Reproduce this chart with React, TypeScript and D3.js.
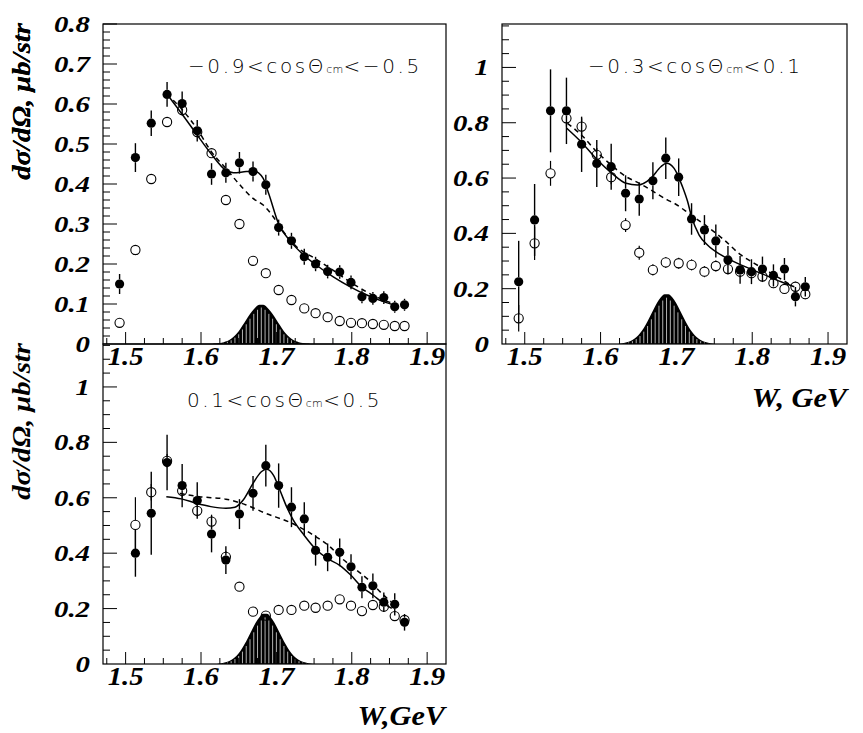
import { useEffect, useRef } from "react";
import * as d3 from "d3";

// W bins (GeV), shared by all three angular ranges
const wBins = [
  1.492, 1.513, 1.534, 1.555, 1.575, 1.595, 1.614, 1.633, 1.651, 1.669, 1.686, 1.703,
  1.72, 1.737, 1.752, 1.768, 1.784, 1.799, 1.8135, 1.828, 1.8425, 1.857, 1.87,
];

const xTickLabels = ["1.5", "1.6", "1.7", "1.8", "1.9"];
const yLabelsTop = ["0", "0.1", "0.2", "0.3", "0.4", "0.5", "0.6", "0.7", "0.8"];
const yLabelsWide = ["0", "0.2", "0.4", "0.6", "0.8", "1"];

// -0.9 < cos < -0.5
const p1Filled = [
  0.15, 0.466, 0.552, 0.624, 0.601, 0.533, 0.425, 0.428, 0.453, 0.431, 0.398, 0.291,
  0.258, 0.218, 0.2, 0.181, 0.18, 0.154, 0.118, 0.114, 0.116, 0.093, 0.098,
];
const p1FilledErr = [
  0.025, 0.036, 0.032, 0.031, 0.03, 0.027, 0.027, 0.025, 0.027, 0.025, 0.025, 0.02,
  0.02, 0.02, 0.018, 0.017, 0.017, 0.017, 0.016, 0.016, 0.016, 0.015, 0.015,
];
const p1Open = [
  0.053, 0.235, 0.4125, 0.555, 0.585, 0.53, 0.477, 0.36, 0.3, 0.208, 0.177, 0.135,
  0.11, 0.089, 0.077, 0.067, 0.0575, 0.053, 0.052, 0.05, 0.048, 0.045, 0.045,
];
const p1OpenErr = [
  0.004, 0.006, 0.006, 0.006, 0.006, 0.006, 0.005, 0.005, 0.005, 0.004, 0.004, 0.004,
  0.004, 0.004, 0.003, 0.003, 0.003, 0.003, 0.003, 0.003, 0.003, 0.003, 0.003,
];
const p1Solid: [number, number][] = [
  [1.554, 0.627], [1.574, 0.577], [1.594, 0.525], [1.614, 0.474], [1.6325, 0.435],
  [1.643, 0.428], [1.66, 0.431], [1.671, 0.432], [1.6825, 0.414], [1.69, 0.375],
  [1.703, 0.3], [1.719, 0.256], [1.7365, 0.222], [1.751, 0.2], [1.7755, 0.168],
  [1.798, 0.143], [1.82, 0.1225], [1.842, 0.106], [1.857, 0.097],
];
const p1Dashed: [number, number][] = [
  [1.5545, 0.625], [1.574, 0.588], [1.594, 0.54], [1.614, 0.48], [1.6325, 0.44],
  [1.6515, 0.398], [1.669, 0.364], [1.6825, 0.3475], [1.6958, 0.318], [1.7046, 0.293],
  [1.7268, 0.243], [1.751, 0.214], [1.7755, 0.184], [1.7977, 0.155], [1.82, 0.13],
  [1.842, 0.11], [1.857, 0.1],
];
const p1HistStart = 1.615;
const p1Hist = [
  0.001, 0.002, 0.003, 0.006, 0.01, 0.017, 0.026, 0.039, 0.053, 0.068, 0.081, 0.092, 0.098,
  0.098, 0.092, 0.081, 0.068, 0.053, 0.039, 0.026, 0.017, 0.01, 0.006, 0.003, 0.002, 0.001,
];

// -0.3 < cos < 0.1
const p2Filled = [
  0.225, 0.4485, 0.843, 0.843, 0.722, 0.653, 0.641, 0.545, 0.524, 0.59, 0.672, 0.603,
  0.452, 0.412, 0.3725, 0.304, 0.268, 0.2615, 0.271, 0.248, 0.271, 0.171, 0.207,
];
const p2FilledErr = [
  0.148, 0.13, 0.15, 0.12, 0.1, 0.085, 0.083, 0.065, 0.06, 0.067, 0.075, 0.068,
  0.057, 0.054, 0.06, 0.05, 0.05, 0.045, 0.045, 0.04, 0.04, 0.035, 0.035,
];
const p2Open = [
  0.093, 0.364, 0.617, 0.816, 0.786, 0.684, 0.603, 0.43, 0.33, 0.268, 0.295, 0.292,
  0.286, 0.2615, 0.282, 0.271, 0.2615, 0.256, 0.244, 0.22, 0.199, 0.207, 0.18,
];
const p2OpenErr = [
  0.048, 0.06, 0.045, 0.03, 0.03, 0.025, 0.025, 0.025, 0.025, 0.02, 0.02, 0.02,
  0.02, 0.02, 0.02, 0.02, 0.02, 0.02, 0.02, 0.018, 0.018, 0.018, 0.018,
];
const p2Solid: [number, number][] = [
  [1.5554, 0.78], [1.576, 0.726], [1.595, 0.668], [1.615, 0.617], [1.6337, 0.581],
  [1.6487, 0.575], [1.6663, 0.599], [1.6795, 0.641], [1.687, 0.6535], [1.697, 0.635],
  [1.708, 0.569], [1.7148, 0.515], [1.72, 0.46], [1.73, 0.394], [1.741, 0.358],
  [1.7588, 0.322], [1.785, 0.286], [1.8115, 0.2557], [1.838, 0.225], [1.8555, 0.207],
];
const p2Dashed: [number, number][] = [
  [1.5563, 0.798], [1.576, 0.752], [1.595, 0.695], [1.615, 0.645], [1.6337, 0.605],
  [1.652, 0.58], [1.6663, 0.557], [1.688, 0.521], [1.697, 0.509], [1.7191, 0.4665],
  [1.741, 0.424], [1.763, 0.376], [1.785, 0.322], [1.8027, 0.2917], [1.829, 0.2496],
  [1.851, 0.213],
];
const p2HistStart = 1.622;
const p2Hist = [
  0.001, 0.003, 0.006, 0.011, 0.019, 0.031, 0.048, 0.07, 0.096, 0.123, 0.149, 0.169, 0.18,
  0.18, 0.169, 0.149, 0.123, 0.096, 0.07, 0.048, 0.031, 0.019, 0.011, 0.006, 0.003, 0.001,
];

// 0.1 < cos < 0.5 (no point in the first bin)
const p3Filled = [
  null, 0.4, 0.544, 0.727, 0.644, 0.59, 0.469, 0.375, 0.541, 0.616, 0.716, 0.644,
  0.566, 0.5235, 0.41, 0.385, 0.403, 0.351, 0.277, 0.282, 0.223, 0.2155, 0.1505,
];
const p3FilledErr = [
  0, 0.085, 0.15, 0.1, 0.078, 0.066, 0.066, 0.05, 0.054, 0.063, 0.075, 0.08,
  0.072, 0.06, 0.055, 0.05, 0.05, 0.045, 0.04, 0.045, 0.035, 0.04, 0.03,
];
const p3Open = [
  null, 0.502, 0.62, 0.733, 0.625, 0.553, 0.514, 0.387, 0.279, 0.189, 0.1745, 0.195,
  0.195, 0.2105, 0.203, 0.2105, 0.2335, 0.2105, 0.191, 0.213, 0.207, 0.173, 0.159,
];
const p3OpenErr = [
  0, 0.1, 0.03, 0.025, 0.025, 0.02, 0.025, 0.02, 0.015, 0.012, 0.012, 0.012,
  0.012, 0.012, 0.012, 0.012, 0.015, 0.015, 0.015, 0.015, 0.018, 0.018, 0.018,
];
const p3Solid: [number, number][] = [
  [1.554, 0.604], [1.574, 0.596], [1.594, 0.58], [1.613, 0.568], [1.633, 0.562],
  [1.645, 0.566], [1.656, 0.592], [1.669, 0.652], [1.68, 0.694], [1.687, 0.703],
  [1.696, 0.682], [1.7046, 0.628], [1.7135, 0.568], [1.7223, 0.52], [1.7365, 0.466],
  [1.751, 0.418], [1.7675, 0.381], [1.7835, 0.357], [1.7986, 0.321], [1.813, 0.279],
  [1.828, 0.249], [1.842, 0.219], [1.853, 0.201],
];
const p3Dashed: [number, number][] = [
  [1.5718, 0.616], [1.598, 0.604], [1.633, 0.595], [1.66, 0.574], [1.6856, 0.544],
  [1.719, 0.51], [1.751, 0.462], [1.771, 0.4235], [1.7844, 0.387], [1.7977, 0.357],
  [1.82, 0.309], [1.842, 0.249], [1.852, 0.225],
];
const p3HistStart = 1.62;
const p3Hist = [
  0.001, 0.003, 0.006, 0.011, 0.019, 0.031, 0.048, 0.07, 0.096, 0.123, 0.149, 0.169, 0.181,
  0.181, 0.169, 0.149, 0.123, 0.096, 0.07, 0.048, 0.031, 0.019, 0.011, 0.006, 0.003, 0.001,
];

const BIN = 0.005;
const R = 4.6;
const SERIF = "Liberation Serif, DejaVu Serif, serif";
const SANS = "DejaVu Sans, sans-serif";

interface Panel {
  left: number;
  right: number;
  top: number;
  bottom: number;
  yMax: number;
  yMinor: number;
  yMajorEvery: number;
  yLabels: string[];
  yLabelStep: number;
  filled: (number | null)[];
  filledErr: number[];
  open: (number | null)[];
  openErr: number[];
  solid: [number, number][];
  dashed: [number, number][];
  hist: number[];
  histStart: number;
  cutA: string;
  cutB: string;
  cutX: number;
  cutY: number;
  xTitle?: string;
  xTitleX?: number;
  xTitleY?: number;
}

const panels: Panel[] = [
  {
    left: 103, right: 446, top: 24, bottom: 344,
    yMax: 0.8, yMinor: 0.02, yMajorEvery: 5, yLabels: yLabelsTop, yLabelStep: 0.1,
    filled: p1Filled, filledErr: p1FilledErr, open: p1Open, openErr: p1OpenErr,
    solid: p1Solid, dashed: p1Dashed, hist: p1Hist, histStart: p1HistStart,
    cutA: "\u22120.9<cos\u0398", cutB: "<\u22120.5", cutX: 188, cutY: 73,
  },
  {
    left: 502, right: 847, top: 24, bottom: 344,
    yMax: 1.157, yMinor: 0.05, yMajorEvery: 4, yLabels: yLabelsWide, yLabelStep: 0.2,
    filled: p2Filled, filledErr: p2FilledErr, open: p2Open, openErr: p2OpenErr,
    solid: p2Solid, dashed: p2Dashed, hist: p2Hist, histStart: p2HistStart,
    cutA: "\u22120.3<cos\u0398", cutB: "<0.1", cutX: 588, cutY: 73,
    xTitle: "W, GeV", xTitleX: 847, xTitleY: 407,
  },
  {
    left: 103, right: 446, top: 344, bottom: 664,
    yMax: 1.155, yMinor: 0.05, yMajorEvery: 4, yLabels: yLabelsWide, yLabelStep: 0.2,
    filled: p3Filled, filledErr: p3FilledErr, open: p3Open, openErr: p3OpenErr,
    solid: p3Solid, dashed: p3Dashed, hist: p3Hist, histStart: p3HistStart,
    cutA: "0.1<cos\u0398", cutB: "<0.5", cutX: 187, cutY: 407,
    xTitle: "W,GeV", xTitleX: 445, xTitleY: 725,
  },
];

function serifText(
  g: d3.Selection<SVGGElement, unknown, null, undefined>,
  x: number, y: number, str: string, size: number, anchor: string, rotate = 0, sx = 1.15
) {
  g.append("text")
    .attr("transform", `translate(${x},${y}) rotate(${rotate}) scale(${sx},1)`)
    .attr("text-anchor", anchor)
    .style("font-family", SERIF)
    .style("font-weight", "bold")
    .style("font-style", "italic")
    .style("font-size", size + "px")
    .text(str);
}

// error bar split around the marker, as the original leaves the marker clear
function errSegments(idx: number[], vals: (number | null)[], errs: number[], y: d3.ScaleLinear<number, number>) {
  const segs: { i: number; a: number; b: number }[] = [];
  idx.forEach((i) => {
    const cy = y(vals[i] as number);
    const top = y((vals[i] as number) + errs[i]);
    const bot = y((vals[i] as number) - errs[i]);
    if (cy - top > R) segs.push({ i, a: top, b: cy - R });
    if (bot - cy > R) segs.push({ i, a: cy + R, b: bot });
  });
  return segs;
}

function drawPanel(svg: d3.Selection<SVGSVGElement, unknown, null, undefined>, p: Panel) {
  const x = d3.scaleLinear().domain([1.47, 1.925]).range([p.left, p.right]);
  const y = d3.scaleLinear().domain([0, p.yMax]).range([p.bottom, p.top]);
  const g = svg.append("g");

  // narrow resonance contribution, shaded histogram
  const hp = p.hist.map((v, i) => ({ w: p.histStart + BIN * (i + 0.5), v }));
  const outline = [
    { w: p.histStart, v: 0 },
    ...hp,
    { w: p.histStart + BIN * p.hist.length, v: 0 },
  ];
  g.append("path")
    .attr(
      "d",
      d3.area<{ w: number; v: number }>()
        .x((d) => x(d.w))
        .y0(y(0))
        .y1((d) => y(d.v))
        .curve(d3.curveMonotoneX)(outline) ?? ""
    )
    .attr("fill", "#000");
  g.selectAll(null)
    .data(d3.range(2, p.hist.length - 1))
    .join("line")
    .attr("x1", (i) => x(p.histStart + BIN * i))
    .attr("x2", (i) => x(p.histStart + BIN * i))
    .attr("y1", y(0) - 0.5)
    .attr("y2", (i) => y(Math.min(p.hist[i - 1], p.hist[i]) * 0.93))
    .attr("stroke", "#fff")
    .attr("stroke-width", 0.7);

  // frame
  g.append("rect")
    .attr("x", p.left)
    .attr("y", p.top)
    .attr("width", p.right - p.left)
    .attr("height", p.bottom - p.top)
    .attr("fill", "none")
    .attr("stroke", "#000")
    .attr("stroke-width", 1.2);

  // x ticks every 0.025, inward from the bottom
  g.selectAll(null)
    .data(d3.range(59, 77))
    .join("line")
    .attr("x1", (i) => x(i * 0.025))
    .attr("x2", (i) => x(i * 0.025))
    .attr("y1", p.bottom)
    .attr("y2", (i) => p.bottom - (i % 4 === 0 ? 12 : 6))
    .attr("stroke", "#000")
    .attr("stroke-width", 1);
  xTickLabels.forEach((t) => serifText(g, x(+t), p.bottom + 21, t, 25, "middle"));

  // y ticks
  const nY = Math.floor(p.yMax / p.yMinor + 1e-6);
  g.selectAll(null)
    .data(d3.range(1, nY + 1))
    .join("line")
    .attr("x1", p.left)
    .attr("x2", (i) => p.left + (i % p.yMajorEvery === 0 ? 14 : 7))
    .attr("y1", (i) => y(i * p.yMinor))
    .attr("y2", (i) => y(i * p.yMinor))
    .attr("stroke", "#000")
    .attr("stroke-width", 1);
  p.yLabels.forEach((t, i) =>
    serifText(g, p.left - 13, y(i * p.yLabelStep) + 8, t, 24, "end", 0, 1.2)
  );

  // curves
  const line = d3.line<[number, number]>()
    .x((d) => x(d[0]))
    .y((d) => y(d[1]))
    .curve(d3.curveMonotoneX);
  g.append("path")
    .attr("d", line(p.dashed) ?? "")
    .attr("fill", "none")
    .attr("stroke", "#000")
    .attr("stroke-width", 1.5)
    .attr("stroke-dasharray", "5,4");
  g.append("path")
    .attr("d", line(p.solid) ?? "")
    .attr("fill", "none")
    .attr("stroke", "#000")
    .attr("stroke-width", 1.5);

  // filled points with errors
  const fIdx = d3.range(wBins.length).filter((i) => p.filled[i] != null);
  g.selectAll(null)
    .data(errSegments(fIdx, p.filled, p.filledErr, y))
    .join("line")
    .attr("x1", (s) => x(wBins[s.i]))
    .attr("x2", (s) => x(wBins[s.i]))
    .attr("y1", (s) => s.a)
    .attr("y2", (s) => s.b)
    .attr("stroke", "#000")
    .attr("stroke-width", 1.4);
  g.selectAll(null)
    .data(fIdx)
    .join("circle")
    .attr("cx", (i) => x(wBins[i]))
    .attr("cy", (i) => y(p.filled[i] as number))
    .attr("r", R)
    .attr("fill", "#000");

  // open points with errors
  const oIdx = d3.range(wBins.length).filter((i) => p.open[i] != null);
  g.selectAll(null)
    .data(errSegments(oIdx, p.open, p.openErr, y))
    .join("line")
    .attr("x1", (s) => x(wBins[s.i]))
    .attr("x2", (s) => x(wBins[s.i]))
    .attr("y1", (s) => s.a)
    .attr("y2", (s) => s.b)
    .attr("stroke", "#000")
    .attr("stroke-width", 1.2);
  g.selectAll(null)
    .data(oIdx)
    .join("circle")
    .attr("cx", (i) => x(wBins[i]))
    .attr("cy", (i) => y(p.open[i] as number))
    .attr("r", R)
    .attr("fill", "none")
    .attr("stroke", "#000")
    .attr("stroke-width", 1.1);

  // angular range label
  const cut = g.append("text")
    .attr("x", p.cutX)
    .attr("y", p.cutY)
    .style("font-family", SANS)
    .style("font-weight", "200")
    .style("font-size", "20px")
    .style("letter-spacing", "2.6px");
  cut.append("tspan").text(p.cutA);
  cut.append("tspan").style("font-size", "11px").style("letter-spacing", "0.3px").text("cm");
  cut.append("tspan").text(p.cutB);

  // axis titles
  serifText(g, 30, p.top - 1, "d\u03c3/d\u03a9, \u03bcb/str", 25, "end", -90, 1.15);
  if (p.xTitle) serifText(g, p.xTitleX as number, p.xTitleY as number, p.xTitle, 27, "end", 0, 1.12);
}

export default function App() {
  const ref = useRef<SVGSVGElement>(null);

  useEffect(() => {
    const svg = d3.select(ref.current as SVGSVGElement);
    svg.selectAll("*").remove();
    svg.append("rect").attr("width", 863).attr("height", 733).attr("fill", "#fff");
    panels.forEach((p) => drawPanel(svg, p));
  }, []);

  return (
    <svg
      ref={ref}
      width={863}
      height={733}
      style={{ position: "absolute", left: 0, top: 0 }}
    />
  );
}
